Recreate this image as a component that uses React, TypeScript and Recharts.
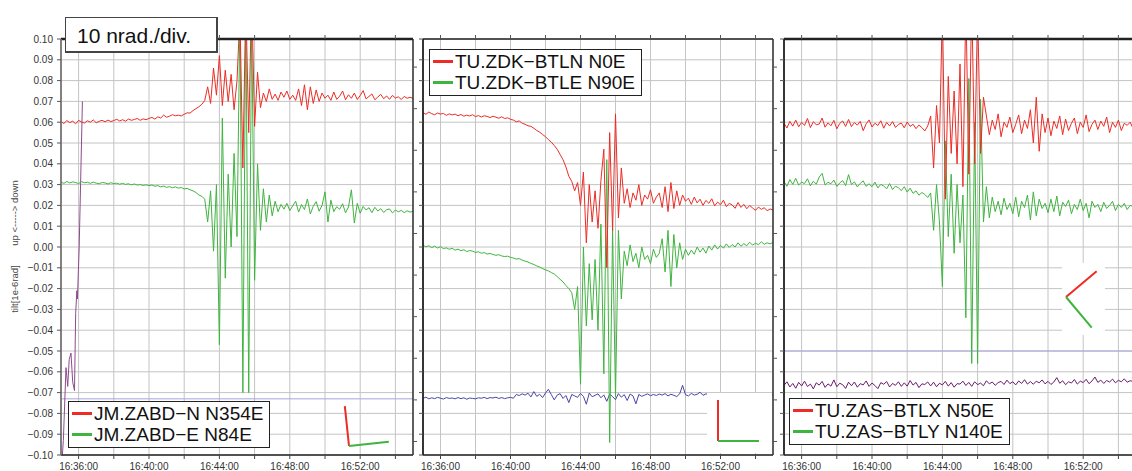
import React from "react";
import { LineChart, Line, XAxis, YAxis, CartesianGrid, ReferenceLine, Legend } from "recharts";

// samples every 10 s from 16:35:00, values in nrad (1e-9 rad)
const STEP_SEC = 10;

const X_TICKS = [60, 180, 300, 420, 540, 660, 780, 900, 1020, 1140];
const X_LABELED = [60, 300, 540, 780, 1020];
const Y_TICKS = [-100, -90, -80, -70, -60, -50, -40, -30, -20, -10, 0, 10, 20, 30, 40, 50, 60, 70, 80, 90, 100];
const Y_RIGHT_TICKS = [86.5, 66.5, 46.5, 26.5, 6.5, -13.5, -33.5, -53.5, -73.5, -93.5];

// ---- JM.ZABD ----
const p1N = [
  60.2, 59.4, 60.8, 59.8, 60.5, 59.2, 60.9, 60.1, 59.6, 60.7,
  60.0, 61.1, 59.7, 60.4, 60.9, 60.2, 61.0, 60.3, 60.8, 61.4,
  60.6, 61.2, 60.5, 61.5, 60.9, 61.3, 61.8, 60.9, 61.6, 61.2,
  61.8, 62.3, 61.5, 62.6, 62.0, 63.4, 62.4, 62.9, 63.6, 63.1,
  63.4, 63.0, 63.8, 64.5, 64.4, 65.6, 66.5, 67.4, 68.6, 70.4,
  77, 69, 86, 73, 92, 68, 85, 70, 83, 66, 80, 112, 38, 118, 55, 122, 58, 84, 67,
  74, 70, 76, 71, 73.5, 70.5, 74.5, 72, 75, 71, 73, 70.5,
  76, 68, 78, 66, 77, 69, 75.5, 70, 74, 71.5,
  73, 70.5, 74.5, 71, 72.5, 75, 70.8, 73.2, 71.5, 74,
  70.9, 72.8, 75.2, 71.2, 72.4, 73.6, 70.8, 72.1, 73.4, 71.3,
  72.6, 71.0, 72.9, 71.6, 72.2, 70.9, 72.4, 71.5, 72.0, 71.4,
];
const p1E = [
  31.2, 30.6, 31.5, 30.8, 31.3, 31.0, 30.5, 31.4, 30.9, 31.1,
  30.6, 31.2, 30.7, 30.4, 31.0, 30.8, 30.3, 30.9, 30.5, 30.7,
  30.2, 30.6, 30.1, 30.4, 29.9, 30.3, 29.8, 30.0, 29.6, 29.9,
  29.5, 29.8, 29.2, 29.5, 28.9, 29.3, 28.7, 29.0, 28.5, 28.9,
  28.3, 28.6, 27.9, 28.2, 27.5, 27.0, 26.2, 25.0, 24.4, 23.0,
  12, 27, -2, 30, -47, 62, -15, 35, 0, 45, 5, 110, -70, 115, -70, 108, -16, 40, 8,
  28, 12, 25, 15, 22, 17,
  20.5, 18.2, 21.0, 17.5, 19.8, 22.0, 16.8, 20.4, 18.0, 23.1,
  15.9, 19.6, 21.8, 17.2, 20.0, 26.5, 12.0, 22.5, 17.0, 19.4,
  18.1, 20.8, 16.4, 19.2, 27.5, 11.5, 21.0, 16.2, 19.5, 17.8,
  18.9, 16.5, 19.1, 17.3, 18.4, 16.6, 17.9, 18.3, 16.4, 17.8,
  16.9, 17.6, 16.5, 17.4, 16.8, 17.1,
];
const p1TempSec = [0, 8, 17, 23, 28, 34, 40, 46, 50, 54, 56, 62, 73];
const p1TempVal = [-110, -93, -58, -67, -54, -51, -65, -69, -32, -21, -25, 0, 70];
const p1Level = -73;

// ---- TU.ZDK ----
const p2N = [
  64.5, 63.8, 64.9, 64.1, 63.6, 64.4, 63.9, 64.2, 63.3, 64.0,
  63.5, 63.9, 63.1, 63.7, 62.9, 63.4, 63.0, 63.6, 62.7, 63.2,
  62.5, 63.1, 62.8, 62.2, 62.9, 62.4, 61.9, 62.6, 61.8, 62.1,
  61.4, 61.0, 60.2, 60.6, 59.5, 59.0, 58.3, 58.0, 57.1, 56.0,
  55.2, 54.1, 53.0, 51.6, 50.4, 48.8, 47.0, 44.5, 42.0, 38.5, 34.0, 31.5,
  27, 31, 20, 36, 2, 30, 12, 27, 9, 32, 47, -10, 55, 8, 64, 14, 38,
  21, 28, 19, 26, 22.5, 30, 20, 25, 23, 27.5, 21, 24,
  26, 19, 29, 17, 31, 18.5, 27, 20, 25, 22,
  23.5, 20.5, 24, 21.2, 23, 20, 22.4, 21, 23.2, 19.8,
  21.6, 20.3, 22.5, 19.4, 21, 20.2, 18.6, 21.4, 19.0, 20.5,
  18.4, 19.9, 18.8, 17.6, 19.2, 18.1, 18.9, 17.4, 18.3, 17.8,
];
const p2E = [
  0.8, 0.1, 0.6, -0.3, 0.4, -0.5, 0.2, -0.8, -0.4, -1.1,
  -0.6, -1.5, -1.0, -1.8, -1.3, -2.2, -1.7, -2.0, -2.6, -2.3,
  -3.0, -2.7, -3.4, -3.1, -3.6, -4.0, -3.7, -4.3, -4.6, -4.4,
  -5.0, -5.3, -5.8, -5.6, -6.3, -6.8, -7.2, -7.9, -8.4, -9.1,
  -9.6, -10.4, -11.0, -11.5, -12.3, -13.0, -14.2, -15.5, -16.8, -18.5, -20.0,
  -22, -30, -19, -66, 0, -38, -8, -35, -6, -40, 11, -61, 42, -94, 9, -72, 8, -25,
  -2, -9, 1, -7, -3, -10, 0, -6, -4, -8, -1, -5,
  -3, 4, -12, 8, -19, 6, -10, 2, -6, -1,
  -4, -1.5, -3.5, 0, -2.5, -0.5, -3, 0.5, -1.5, 1,
  -1, 0.8, -0.6, 1.5, -0.2, 1.2, 0, 2, 0.4, 1.6,
  0.6, 2.3, 0.9, 1.8, 1.1, 2.5, 1.3, 2.0, 1.5, 2.2,
];
const p2T = [
  -72.8, -72.2, -73.0, -72.5, -72.9, -72.3, -72.7, -73.1, -72.4, -72.8,
  -72.6, -73.0, -72.4, -72.9, -72.5, -73.2, -72.6, -72.8, -73.0, -72.5,
  -72.7, -72.3, -72.9, -72.4, -72.6, -72.2, -72.8, -72.4, -72.9, -72.5,
  -72.3, -72.7, -70.9, -71.4, -70.6, -71.2, -70.3, -72.1, -69.5, -71.8,
  -70.8, -72.4, -70.2, -68.4, -71.0, -73.5, -71.2, -70.5, -72.8, -71.4,
  -74.8, -70.9, -71.6, -72.3, -70.4, -71.8, -75.6, -70.2, -72.0, -71.3,
  -70.6, -72.5, -71.1, -74.2, -70.8, -71.9, -73.4, -70.5, -72.2, -71.0,
  -73.8, -70.7, -71.6, -75.4, -70.9, -71.8, -71.2, -70.6, -71.5, -70.9,
  -71.4, -70.7, -71.2, -70.5, -71.6, -70.8, -71.3, -71.9, -70.6, -66.5,
  -71.0, -71.6, -70.4, -71.2, -70.8, -69.8, -71.3, -70.6, -71.0, -71.4,
  -70.7, -71.2, -70.9, -71.5, -70.8, -71.1, -71.6, -70.9, -71.3, -71.0,
  -71.4, -70.8, -71.2, -71.5, -70.9, -71.3, -71.0, -71.6, -71.2, -71.4, -71.1,
];

// ---- TU.ZAS ----
const p3X = [
  59.5, 57.2, 60.4, 58.1, 61.0, 57.8, 59.9, 58.5, 61.8, 57.4,
  60.2, 58.8, 59.1, 62.0, 57.6, 59.7, 58.3, 60.9, 56.8, 59.4,
  60.6, 58.0, 61.3, 57.9, 59.8, 58.6, 60.4, 55.9, 59.2, 61.1,
  57.7, 59.5, 58.4, 60.7, 57.1, 59.9, 58.2, 60.3, 57.5, 58.9,
  59.6, 57.3, 60.1, 58.0, 59.0, 56.9, 58.6, 57.4, 55.8, 58.2,
  63, 38, 68, 50, 115, 23, 82, 45, 75, 40, 88, 29, 118, 35, 120, 40, 115, 45, 72,
  63, 54, 61, 56.5, 64, 53, 60, 57.5, 62.5, 55,
  59, 63.5, 54.5, 61, 57, 66, 50, 72, 46, 64,
  55, 62, 53.5, 60.5, 57, 63, 54, 61.5, 56, 59.5,
  62, 54.5, 60, 57.5, 63.5, 55.5, 59, 61, 56.5, 60.5,
  58, 62.5, 55, 60, 57.5, 61, 56, 59.5, 58.5, 60, 57, 59,
];
const p3Y = [
  31.5, 29.2, 32.4, 30.1, 33.0, 29.8, 31.2, 30.5, 32.8, 29.4,
  31.6, 30.2, 33.6, 35.4, 29.8, 31.1, 30.4, 32.2, 29.1, 30.8,
  31.9, 29.5, 34.8, 30.0, 31.3, 28.9, 30.6, 31.8, 29.2, 30.4,
  29.0, 31.2, 28.4, 30.1, 29.3, 28.0, 30.5, 27.6, 29.2, 28.5,
  27.1, 29.0, 26.4, 28.3, 25.8, 27.0, 24.9, 26.2, 25.3, 23.8,
  26, 8, 30, 12, -19, 51, 5, 35, -3, 30, 2, 25, -34, 81, -56, 60, -56, 71, 12,
  29, 14, 24, 17, 22, 15.5, 23.5, 18, 21, 16, 24, 14.5, 22, 19, 25, 13, 26.5, 15, 23, 18.5,
  21, 16.5, 23, 17, 24.5, 15, 21.5, 19.5, 22.5, 16, 20.5, 18, 23, 17.5, 21, 14, 22, 19, 20.5, 17,
  21.5, 18.5, 20, 22, 17.5, 20.5, 19, 21, 18, 20, 19.5, 19,
];
const p3T = [
  -66.5, -64.8, -67.3, -65.6, -67.9, -65.1, -66.8, -64.5, -67.1, -65.9,
  -68.2, -65.3, -66.4, -64.6, -67.5, -65.8, -66.9, -63.9, -67.2, -65.5,
  -66.2, -68.0, -65.0, -66.7, -64.9, -67.4, -65.7, -66.3, -64.4, -67.0,
  -65.4, -66.6, -68.1, -65.2, -66.0, -64.7, -67.3, -65.6, -66.5, -64.8,
  -67.0, -65.3, -66.9, -64.2, -66.4, -65.1, -67.6, -65.8, -66.1, -64.9,
  -66.8, -65.0, -67.2, -65.5, -66.3, -64.6, -66.9, -65.2, -67.4, -65.7,
  -65.9, -64.5, -66.6, -65.1, -67.0, -64.8, -66.2, -65.4, -66.7, -64.3,
  -65.8, -64.9, -66.5, -65.2, -64.6, -66.1, -64.0, -65.7, -64.8, -66.3,
  -64.4, -65.6, -63.8, -65.9, -64.7, -66.0, -64.5, -65.3, -63.9, -65.8,
  -64.6, -66.1, -64.9, -62.8, -65.5, -64.3, -66.2, -64.8, -65.4, -63.7,
  -65.9, -64.5, -65.2, -63.6, -65.7, -64.4, -62.5, -65.1, -64.0, -65.6,
  -64.2, -64.9, -63.5, -65.3, -64.1, -64.8, -63.4, -65.0, -64.3, -64.6, -64.2,
];
const p3Level = -50;

// sensor orientations (deg from north) for the little direction glyphs
const p1Azimuth = [354, 84];
const p2Azimuth = [0, 90];
const p3Azimuth = [50, 140];

const RED = "#ec2c25";
const GREEN = "#3fb43f";

const p1Rows = p1N.map((v, i) => ({ t: i * STEP_SEC, a: v, b: p1E[i] }));
const p1TempRows = p1TempSec.map((t, i) => ({ t, v: p1TempVal[i] }));
const p2Rows = p2N.map((v, i) => ({ t: i * STEP_SEC, a: v, b: p2E[i], c: p2T[i] }));
const p3Rows = p3X.map((v, i) => ({ t: i * STEP_SEC, a: v, b: p3Y[i], c: p3T[i] }));

const fmtY = (v: number) => {
  const s = (Math.abs(v) / 1000).toFixed(2);
  return v < 0 ? "\u2212" + s : s;
};
const fmtX = (t: number) => {
  if (!X_LABELED.includes(t)) return "";
  const m = 35 + t / 60;
  return `16:${String(m).padStart(2, "0")}:00`;
};

function LegendBox({ payload, names }: any) {
  const items = names
    .map((n: string) => (payload || []).find((p: any) => p.value === n))
    .filter(Boolean);
  return (
    <div
      style={{
        border: "1px solid #222",
        background: "#fff",
        padding: "1px 6px 2px 3px",
        fontSize: 19,
        lineHeight: "21px",
        color: "#111",
        whiteSpace: "nowrap",
      }}
    >
      {items.map((it: any) => (
        <div key={it.value} style={{ display: "flex", alignItems: "center" }}>
          <span style={{ display: "inline-block", width: 20, height: 3, background: it.color, marginRight: 2 }} />
          {it.value}
        </div>
      ))}
    </div>
  );
}

interface PanelProps {
  left: number;
  plotWidth: number;
  axisWidth: number;
  rows: any[];
  names: [string, string];
  legendAt: { left: number; top: number };
  yLabels?: boolean;
  level?: number;
  third?: { color: string; rows?: any[]; key: string };
  topStroke: number;
  leftStroke: string;
}

function Panel(p: PanelProps) {
  const width = p.axisWidth + p.plotWidth + 6;
  return (
    <div style={{ position: "absolute", left: p.left, top: 0 }}>
      <LineChart width={width} height={471} data={p.rows} margin={{ top: 35, right: 0, bottom: 0, left: 0 }}>
        <CartesianGrid stroke="#c4c4c4" strokeWidth={1} />
        <XAxis
          dataKey="t"
          type="number"
          domain={[0, 1200]}
          ticks={X_TICKS}
          tickFormatter={fmtX}
          height={16}
          tickSize={4}
          tickMargin={4}
          interval={0}
          tick={{ fontSize: 10, fill: "#333" }}
          axisLine={{ stroke: "#222", strokeWidth: 1.5 }}
          tickLine={{ stroke: "#444" }}
        />
        <XAxis
          xAxisId="top"
          orientation="top"
          dataKey="t"
          type="number"
          domain={[0, 1200]}
          ticks={X_TICKS}
          tickFormatter={() => ""}
          height={4}
          tickSize={4}
          interval={0}
          axisLine={{ stroke: "#222", strokeWidth: p.topStroke }}
          tickLine={{ stroke: "#555" }}
        />
        <YAxis
          type="number"
          domain={[-100, 100]}
          ticks={Y_TICKS}
          allowDataOverflow
          width={p.axisWidth}
          tickSize={4}
          tickMargin={4}
          interval={0}
          tickFormatter={p.yLabels ? fmtY : () => ""}
          tick={{ fontSize: 10, fill: "#333" }}
          axisLine={{ stroke: p.leftStroke, strokeWidth: 1.8 }}
          tickLine={{ stroke: "#555" }}
        />
        <YAxis
          yAxisId="r"
          orientation="right"
          type="number"
          domain={[-100, 100]}
          ticks={Y_RIGHT_TICKS}
          allowDataOverflow
          width={6}
          tickSize={4}
          interval={0}
          tickFormatter={() => ""}
          axisLine={{ stroke: "#333", strokeWidth: 1.5 }}
          tickLine={{ stroke: "#555" }}
        />
        {p.level !== undefined && (
          <ReferenceLine y={p.level} stroke="#a3a3e0" strokeWidth={1} />
        )}
        {p.third && (
          <Line
            data={p.third.rows}
            dataKey={p.third.key}
            stroke={p.third.color}
            strokeWidth={1}
            dot={false}
            legendType="none"
            isAnimationActive={false}
          />
        )}
        <Line dataKey="b" name={p.names[1]} stroke={GREEN} strokeWidth={1} dot={false} isAnimationActive={false} />
        <Line dataKey="a" name={p.names[0]} stroke={RED} strokeWidth={1} dot={false} isAnimationActive={false} />
        <Legend
          layout="vertical"
          align="center"
          verticalAlign="middle"
          content={(props: any) => <LegendBox payload={props.payload} names={p.names} />}
          wrapperStyle={{ left: p.legendAt.left, top: p.legendAt.top, width: "auto", height: "auto" }}
        />
      </LineChart>
    </div>
  );
}

function Glyph({ x, y, az, len }: { x: number; y: number; az: number[]; len: number }) {
  const colors = [RED, GREEN];
  return (
    <g>
      {az.map((a, i) => {
        const r = (a * Math.PI) / 180;
        return (
          <line
            key={i}
            x1={x}
            y1={y}
            x2={x + len * Math.sin(r)}
            y2={y - len * Math.cos(r)}
            stroke={colors[i]}
            strokeWidth={2}
          />
        );
      })}
    </g>
  );
}

export default function App() {
  return (
    <div
      style={{
        position: "fixed",
        left: 0,
        top: 0,
        width: 1132,
        height: 471,
        overflow: "hidden",
        background: "#fff",
        fontFamily: "'Liberation Sans', Arial, sans-serif",
      }}
    >
      <Panel
        left={0}
        plotWidth={352}
        axisWidth={61}
        rows={p1Rows}
        names={["JM.ZABD\u2212N N354E", "JM.ZABD\u2212E N84E"]}
        legendAt={{ left: 68, top: 401 }}
        yLabels
        level={p1Level}
        third={{ color: "#8d4b8d", rows: p1TempRows, key: "v" }}
        topStroke={2.5}
        leftStroke="#777"
      />
      <Panel
        left={416}
        plotWidth={350}
        axisWidth={7}
        rows={p2Rows}
        names={["TU.ZDK\u2212BTLN N0E", "TU.ZDK\u2212BTLE N90E"]}
        legendAt={{ left: 13, top: 49 }}
        third={{ color: "#4747a6", key: "c" }}
        topStroke={1.5}
        leftStroke="#222"
      />
      <Panel
        left={770}
        plotWidth={352}
        axisWidth={14}
        rows={p3Rows}
        names={["TU.ZAS\u2212BTLX N50E", "TU.ZAS\u2212BTLY N140E"]}
        legendAt={{ left: 19, top: 398 }}
        level={p3Level}
        third={{ color: "#6a1d6a", key: "c" }}
        topStroke={2.5}
        leftStroke="#222"
      />
      <svg
        width={1132}
        height={471}
        style={{ position: "absolute", left: 0, top: 0, pointerEvents: "none" }}
      >
        <text
          transform="translate(18,289) rotate(-90)"
          textAnchor="middle"
          fontSize={9.5}
          fill="#444"
        >
          tilt[1e-6rad]
        </text>
        <text
          transform="translate(18,213) rotate(-90)"
          textAnchor="middle"
          fontSize={9.5}
          fill="#444"
        >
          {"up <-----> down"}
        </text>
        <rect x={707} y={393} width={65} height={60} fill="#fff" />
        <rect x={1062} y={263} width={43} height={72} fill="#fff" />
        <Glyph x={349} y={446} az={p1Azimuth} len={40} />
        <Glyph x={718} y={441} az={p2Azimuth} len={41} />
        <Glyph x={1066} y={297} az={p3Azimuth} len={40} />
      </svg>
      <div
        style={{
          position: "absolute",
          left: 65,
          top: 17,
          width: 153,
          height: 36,
          boxSizing: "border-box",
          background: "#fff",
          border: "1px solid #444",
          borderRightWidth: 2,
          borderBottomWidth: 2,
          paddingLeft: 11,
          paddingTop: 3,
          fontSize: 21,
          lineHeight: "30px",
          color: "#111",
          whiteSpace: "nowrap",
        }}
      >
        10 nrad./div.
      </div>
    </div>
  );
}
